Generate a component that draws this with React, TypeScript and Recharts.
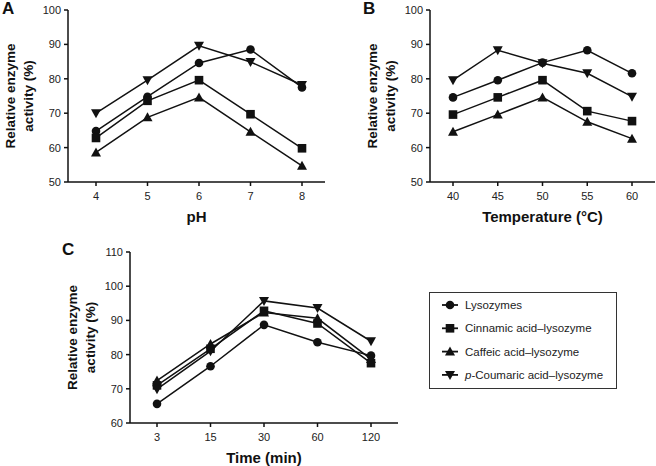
import { LineChart, Line, XAxis, YAxis, Label } from "recharts";

const FONT = "'Liberation Sans', Arial, Helvetica, sans-serif";
const INK = "#111";

// series names / marker shapes
const seriesNames = ["Lysozymes", "Cinnamic acid–lysozyme", "Caffeic acid–lysozyme", "p-Coumaric acid–lysozyme"];
const seriesKeys = ["lys", "cin", "caf", "cou"];
const seriesShapes = ["circle", "square", "triangle", "down"];

// A: pH
const phLevels = [4, 5, 6, 7, 8];
const phLys = [64.8, 74.8, 84.6, 88.5, 77.5];
const phCin = [62.8, 73.6, 79.6, 69.7, 59.8];
const phCaf = [58.6, 68.8, 74.6, 64.6, 54.7];
const phCou = [70.0, 79.6, 89.6, 84.9, 78.2];

// B: temperature
const tempLevels = [40, 45, 50, 55, 60];
const tempLys = [74.6, 79.6, 84.7, 88.3, 81.6];
const tempCin = [69.6, 74.6, 79.6, 70.6, 67.7];
const tempCaf = [64.6, 69.6, 74.6, 67.5, 62.6];
const tempCou = [79.6, 88.3, 84.5, 81.6, 74.8];

// C: time
const timeLevels = [3, 15, 30, 60, 120];
const timeLys = [65.6, 76.6, 88.7, 83.6, 79.7];
const timeCin = [71.0, 81.7, 92.8, 89.1, 77.5];
const timeCaf = [72.4, 83.1, 92.3, 90.6, 78.7];
const timeCou = [69.9, 81.0, 95.7, 93.6, 83.9];

const ticksAB = [50, 60, 70, 80, 90, 100];
const ticksC = [60, 70, 80, 90, 100, 110];

function buildRows(levels: number[], series: number[][]) {
  return levels.map((x, i) => {
    const row: Record<string, number | string> = { x: String(x) };
    seriesKeys.forEach((k, s) => (row[k] = series[s][i]));
    return row;
  });
}

const dataA = buildRows(phLevels, [phLys, phCin, phCaf, phCou]);
const dataB = buildRows(tempLevels, [tempLys, tempCin, tempCaf, tempCou]);
const dataC = buildRows(timeLevels, [timeLys, timeCin, timeCaf, timeCou]);

function Marker({ shape, cx, cy }: { shape: string; cx: number; cy: number }) {
  if (shape === "circle") return <circle cx={cx} cy={cy} r={4.3} fill={INK} />;
  if (shape === "square") return <rect x={cx - 4.3} y={cy - 4.3} width={8.6} height={8.6} fill={INK} />;
  if (shape === "triangle")
    return <path d={`M${cx},${cy - 5} L${cx + 5},${cy + 4} L${cx - 5},${cy + 4} Z`} fill={INK} />;
  return <path d={`M${cx},${cy + 5} L${cx + 5},${cy - 4} L${cx - 5},${cy - 4} Z`} fill={INK} />;
}

const tickStyle = { fontSize: 11, fill: "#222", fontFamily: FONT };

function YTitle({ viewBox }: any) {
  const right = viewBox.x + viewBox.width;
  const cy = viewBox.y + viewBox.height / 2;
  const lines = ["Relative enzyme", "activity (%)"];
  return (
    <g>
      {lines.map((t, i) => {
        const x = right - 58 + i * 18;
        return (
          <text
            key={t}
            x={x}
            y={cy}
            transform={`rotate(-90, ${x}, ${cy})`}
            textAnchor="middle"
            dominantBaseline="central"
            fontFamily={FONT}
            fontWeight="bold"
            fontSize={13.5}
            fill={INK}
          >
            {t}
          </text>
        );
      })}
    </g>
  );
}

function XTitle({ viewBox, text }: any) {
  return (
    <text
      x={viewBox.x + viewBox.width / 2}
      y={viewBox.y + 40}
      textAnchor="middle"
      fontFamily={FONT}
      fontWeight="bold"
      fontSize={15}
      fill={INK}
    >
      {text}
    </text>
  );
}

function Panel({ data, width, height, margin, pad, domain, ticks, xTitle }: any) {
  return (
    <LineChart width={width} height={height} data={data} margin={margin}>
      <XAxis
        dataKey="x"
        padding={pad}
        tick={tickStyle}
        tickSize={4}
        tickMargin={6}
        axisLine={{ stroke: INK, strokeWidth: 1.5 }}
        tickLine={{ stroke: INK, strokeWidth: 1.5 }}
        height={30}
      >
        <Label content={(p: any) => <XTitle {...p} text={xTitle} />} />
      </XAxis>
      <YAxis
        type="number"
        domain={domain}
        ticks={ticks}
        interval={0}
        tick={tickStyle}
        tickSize={4}
        tickMargin={3}
        width={40}
        axisLine={{ stroke: INK, strokeWidth: 1.5 }}
        tickLine={{ stroke: INK, strokeWidth: 1.5 }}
      >
        <Label content={(p: any) => <YTitle {...p} />} />
      </YAxis>
      {seriesKeys.map((k, i) => (
        <Line
          key={k}
          dataKey={k}
          name={seriesNames[i]}
          type="linear"
          stroke={INK}
          strokeWidth={1.5}
          isAnimationActive={false}
          dot={(p: any) => <Marker key={`${k}-${p.index}`} shape={seriesShapes[i]} cx={p.cx} cy={p.cy} />}
          activeDot={false}
        />
      ))}
    </LineChart>
  );
}

function LegendBox() {
  return (
    <svg width={188} height={97} style={{ display: "block" }}>
      <rect x={0.5} y={0.5} width={187} height={96} fill="#fff" stroke="#333" strokeWidth={1} />
      {seriesNames.map((name, i) => {
        const y = 13 + i * 23.3;
        const isP = name.startsWith("p-");
        return (
          <g key={name}>
            <line x1={13} x2={29} y1={y} y2={y} stroke={INK} strokeWidth={1.8} />
            <Marker shape={seriesShapes[i]} cx={21} cy={y} />
            <text x={36} y={y} dominantBaseline="central" fontFamily={FONT} fontSize={11.5} fill="#222">
              {isP ? (
                <>
                  <tspan fontStyle="italic">p</tspan>
                  {name.slice(1)}
                </>
              ) : (
                name
              )}
            </text>
          </g>
        );
      })}
    </svg>
  );
}

export default function App() {
  return (
    <div style={{ position: "absolute", left: 0, top: 0, width: 656, height: 466, background: "#fff", fontFamily: FONT }}>
      <div style={{ position: "absolute", left: 0, top: 0 }}>
        <Panel
          data={dataA}
          width={330}
          height={230}
          margin={{ top: 10, right: 5, bottom: 18, left: 28 }}
          pad={{ left: 28, right: 23 }}
          domain={[50, 100]}
          ticks={ticksAB}
          xTitle="pH"
        />
      </div>
      <div style={{ position: "absolute", left: 330, top: 0 }}>
        <Panel
          data={dataB}
          width={326}
          height={230}
          margin={{ top: 10, right: 1, bottom: 18, left: 60 }}
          pad={{ left: 23, right: 23 }}
          domain={[50, 100]}
          ticks={ticksAB}
          xTitle="Temperature (°C)"
        />
      </div>
      <div style={{ position: "absolute", left: 0, top: 230 }}>
        <Panel
          data={dataC}
          width={656}
          height={236}
          margin={{ top: 22, right: 258, bottom: 13, left: 90 }}
          pad={{ left: 27, right: 27 }}
          domain={[60, 110]}
          ticks={ticksC}
          xTitle="Time (min)"
        />
      </div>
      <div style={{ position: "absolute", left: 429, top: 292 }}>
        <LegendBox />
      </div>
      <svg width={656} height={466} style={{ position: "absolute", left: 0, top: 0, pointerEvents: "none" }}>
        <text x={2} y={14} fontFamily={FONT} fontWeight="bold" fontSize={17} fill={INK}>A</text>
        <text x={363} y={14} fontFamily={FONT} fontWeight="bold" fontSize={17} fill={INK}>B</text>
        <text x={62} y={255} fontFamily={FONT} fontWeight="bold" fontSize={17} fill={INK}>C</text>
      </svg>
    </div>
  );
}
